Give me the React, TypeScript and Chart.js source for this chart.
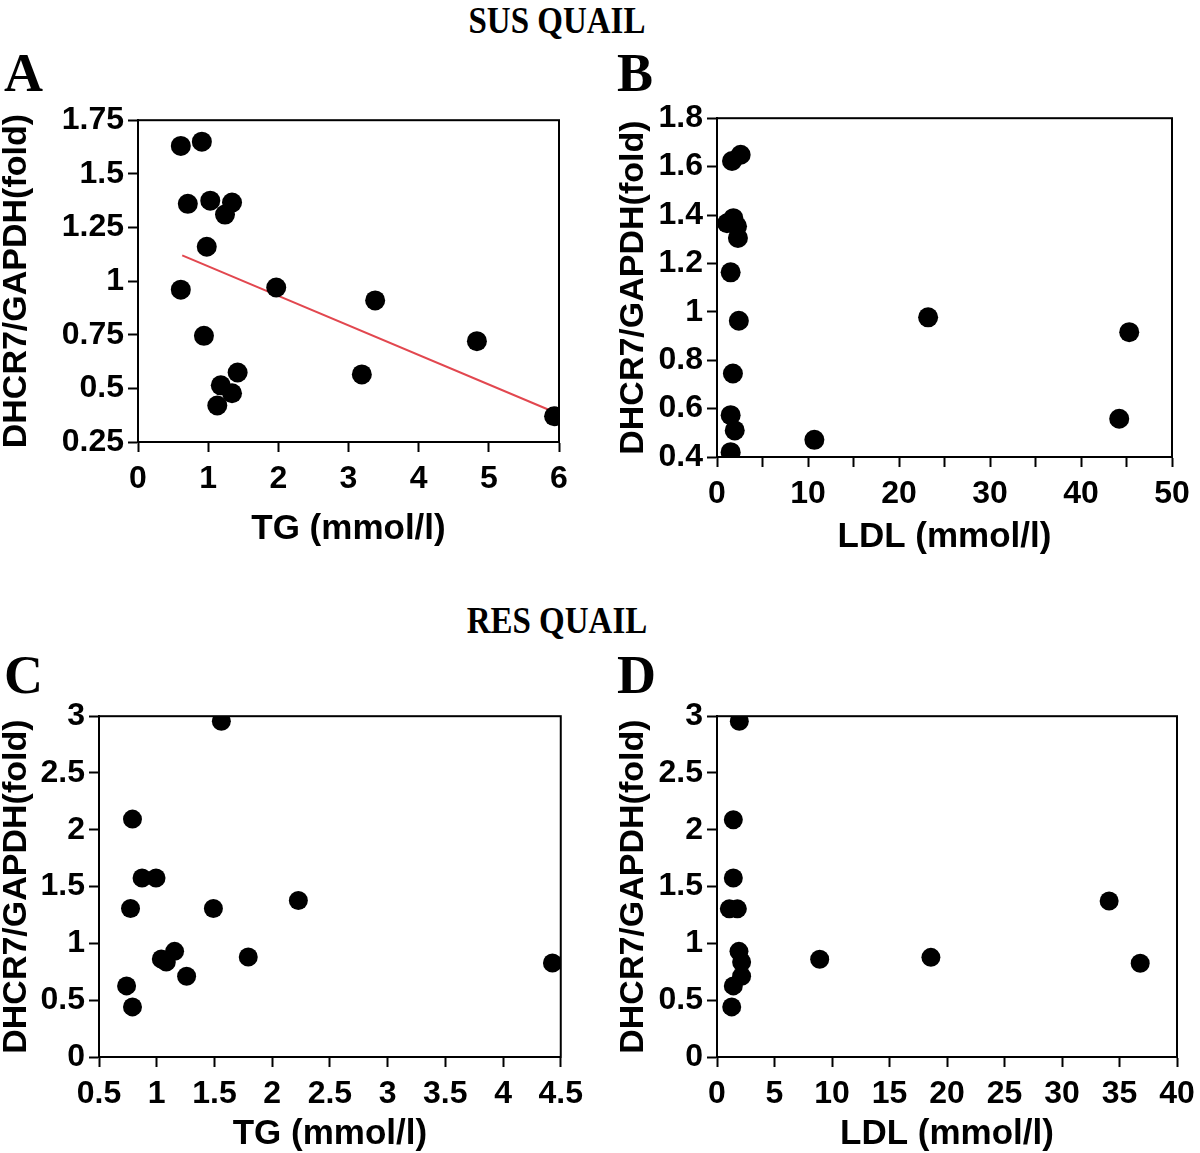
import React, { useEffect, useRef } from 'react';
import { Chart, registerables } from 'chart.js';

Chart.register(...registerables);

// ---------- DATA ----------
// Panel A: SUS quail, TG vs DHCR7/GAPDH
const susTg = [0.61, 0.91, 0.71, 1.03, 1.34, 1.24, 0.98, 0.61, 1.97, 3.38, 0.94, 1.42, 1.18, 1.34, 1.13, 3.19, 4.83, 5.93];
const susTgFold = [1.63, 1.65, 1.36, 1.375, 1.366, 1.31, 1.16, 0.96, 0.97, 0.91, 0.745, 0.574, 0.514, 0.477, 0.42, 0.565, 0.72, 0.37];
const susTgFitX = [0.63, 5.93];
const susTgFitY = [1.12, 0.39];
const susTgXTicks = [0, 1, 2, 3, 4, 5, 6];
const susTgXLabels = ['0', '1', '2', '3', '4', '5', '6'];
const susTgYTicks = [0.25, 0.5, 0.75, 1, 1.25, 1.5, 1.75];
const susTgYLabels = ['0.25', '0.5', '0.75', '1', '1.25', '1.5', '1.75'];

// Panel B: SUS quail, LDL vs DHCR7/GAPDH
const susLdl = [1.65, 2.6, 1.1, 1.8, 2.2, 2.3, 1.5, 2.4, 23.2, 45.3, 1.75, 1.5, 1.95, 1.5, 10.7, 44.2];
const susLdlFold = [1.623, 1.649, 1.366, 1.387, 1.353, 1.305, 1.163, 0.963, 0.977, 0.916, 0.745, 0.573, 0.51, 0.42, 0.471, 0.558];
const susLdlXTicks = [0, 5, 10, 15, 20, 25, 30, 35, 40, 45, 50];
const susLdlXLabels = ['0', '', '10', '', '20', '', '30', '', '40', '', '50'];
const susLdlYTicks = [0.4, 0.6, 0.8, 1.0, 1.2, 1.4, 1.6, 1.8];
const susLdlYLabels = ['0.4', '0.6', '0.8', '1', '1.2', '1.4', '1.6', '1.8'];

// Panel C: RES quail, TG vs DHCR7/GAPDH
const resTg = [1.56, 0.79, 0.873, 0.994, 0.773, 1.491, 2.227, 1.155, 1.04, 1.083, 1.259, 1.793, 0.739, 0.79, 4.428];
const resTgFold = [2.956, 2.094, 1.576, 1.576, 1.307, 1.307, 1.377, 0.93, 0.862, 0.836, 0.711, 0.88, 0.626, 0.441, 0.827];
const resTgXTicks = [0.5, 1, 1.5, 2, 2.5, 3, 3.5, 4, 4.5];
const resTgXLabels = ['0.5', '1', '1.5', '2', '2.5', '3', '3.5', '4', '4.5'];
const resYTicks = [0, 0.5, 1, 1.5, 2, 2.5, 3];
const resYLabels = ['0', '0.5', '1', '1.5', '2', '2.5', '3'];

// Panel D: RES quail, LDL vs DHCR7/GAPDH
const resLdl = [1.94, 1.42, 1.42, 1.07, 1.77, 1.91, 2.14, 2.14, 1.42, 1.28, 8.93, 18.6, 34.1, 36.8];
const resLdlFold = [2.956, 2.088, 1.576, 1.304, 1.304, 0.93, 0.836, 0.711, 0.626, 0.441, 0.86, 0.877, 1.374, 0.825];
const resLdlXTicks = [0, 5, 10, 15, 20, 25, 30, 35, 40];
const resLdlXLabels = ['0', '5', '10', '15', '20', '25', '30', '35', '40'];

const yTitleText = 'DHCR7/GAPDH(fold)';
const tgTitle = 'TG (mmol/l)';
const ldlTitle = 'LDL (mmol/l)';

// ---------- RENDERING ----------
const SANS = "'Liberation Sans', Arial, Helvetica, sans-serif";
const SERIF = "'Liberation Serif', 'Times New Roman', serif";
const TICK_FONT = { family: SANS, size: 32, weight: 'bold' as const, lineHeight: 1.2 };
const XTITLE_FONT = { family: SANS, size: 35, weight: 'bold' as const, lineHeight: 1.2 };
const YTITLE_FONT = { family: SANS, size: 34, weight: 'bold' as const, lineHeight: 1.2 };
const XTITLE_HALF = 35 * 1.2 / 2;
const YTITLE_HALF = 34 * 1.2 / 2;

type Box = { l: number; t: number; r: number; b: number };

const framePlugin = {
  id: 'frame',
  afterDraw(chart: any) {
    const { ctx, chartArea } = chart;
    ctx.save();
    ctx.strokeStyle = '#000';
    ctx.lineWidth = 2;
    ctx.strokeRect(chartArea.left, chartArea.top, chartArea.right - chartArea.left, chartArea.bottom - chartArea.top);
    ctx.restore();
  },
};

type PanelProps = {
  area: Box;
  yTitleCX: number;
  xTitleCY: number;
  xs: number[];
  ys: number[];
  fitX?: number[];
  fitY?: number[];
  xTicks: number[];
  xLabels: string[];
  yTicks: number[];
  yLabels: string[];
  xTitle: string;
  radius: number;
};

function Panel(p: PanelProps) {
  const ref = useRef<HTMLCanvasElement>(null);
  const box: Box = {
    l: Math.round(p.yTitleCX - YTITLE_HALF),
    t: p.area.t - 22,
    r: p.area.r + 28,
    b: Math.round(p.xTitleCY + XTITLE_HALF),
  };
  const w = box.r - box.l;
  const h = box.b - box.t;

  useEffect(() => {
    if (!ref.current) return;
    const datasets: any[] = [
      {
        type: 'scatter',
        data: p.xs.map((x, i) => ({ x, y: p.ys[i] })),
        pointRadius: p.radius,
        pointBackgroundColor: '#000',
        pointBorderColor: '#000',
        pointBorderWidth: 0,
        pointHoverRadius: p.radius,
        clip: 0,
        order: 0,
      },
    ];
    if (p.fitX && p.fitY) {
      datasets.push({
        type: 'line',
        data: p.fitX.map((x, i) => ({ x, y: p.fitY![i] })),
        borderColor: '#e2474f',
        borderWidth: 2,
        pointRadius: 0,
        fill: false,
        clip: 0,
        order: 1,
      });
    }
    const gridOpts = {
      display: true,
      drawOnChartArea: false,
      drawTicks: true,
      tickLength: 10,
      tickWidth: 2,
      tickColor: '#000',
    };
    const chart = new Chart(ref.current, {
      type: 'scatter',
      data: { datasets },
      options: {
        animation: false,
        responsive: false,
        devicePixelRatio: 1,
        events: [],
        layout: {
          padding: { top: p.area.t - box.t, right: box.r - p.area.r, left: 0, bottom: 0 },
        },
        plugins: { legend: { display: false }, tooltip: { enabled: false } },
        scales: {
          x: {
            type: 'linear',
            min: p.xTicks[0],
            max: p.xTicks[p.xTicks.length - 1],
            afterBuildTicks: (s: any) => {
              s.ticks = p.xTicks.map((v) => ({ value: v }));
            },
            afterFit: (s: any) => {
              s.height = box.b - p.area.b;
            },
            ticks: {
              autoSkip: false,
              maxRotation: 0,
              padding: 8,
              color: '#000',
              font: TICK_FONT,
              callback: (_v: any, i: number) => p.xLabels[i],
            },
            grid: gridOpts,
            border: { display: true, color: '#000', width: 2 },
            title: { display: true, text: p.xTitle, color: '#000', font: XTITLE_FONT, padding: 0 },
          },
          y: {
            type: 'linear',
            min: p.yTicks[0],
            max: p.yTicks[p.yTicks.length - 1],
            afterBuildTicks: (s: any) => {
              s.ticks = p.yTicks.map((v) => ({ value: v }));
            },
            afterFit: (s: any) => {
              s.width = p.area.l - box.l;
            },
            ticks: {
              autoSkip: false,
              padding: 4,
              color: '#000',
              font: TICK_FONT,
              callback: (_v: any, i: number) => p.yLabels[i],
            },
            grid: gridOpts,
            border: { display: true, color: '#000', width: 2 },
            title: { display: true, text: yTitleText, color: '#000', font: YTITLE_FONT, padding: 0 },
          },
        },
      } as any,
      plugins: [framePlugin],
    });
    return () => chart.destroy();
  }, []);

  return (
    <canvas
      ref={ref}
      width={w}
      height={h}
      style={{ position: 'absolute', left: box.l, top: box.t, width: w, height: h }}
    />
  );
}

const headStyle: React.CSSProperties = {
  position: 'absolute',
  fontFamily: SERIF,
  fontWeight: 'bold',
  color: '#000',
  whiteSpace: 'nowrap',
  lineHeight: 1,
};

export default function App() {
  return (
    <div
      style={{
        position: 'absolute',
        left: 0,
        top: 0,
        width: 1200,
        height: 1153,
        overflow: 'hidden',
        background: '#fff',
      }}
    >
      <div style={{ ...headStyle, left: 0, width: 1114, top: 4, fontSize: 33, textAlign: 'center', transform: 'scaleY(1.15)' }}>SUS QUAIL</div>
      <div style={{ ...headStyle, left: 0, width: 1114, top: 604, fontSize: 33, textAlign: 'center', transform: 'scaleY(1.15)' }}>RES QUAIL</div>
      <div style={{ ...headStyle, left: 4, top: 46, fontSize: 54 }}>A</div>
      <div style={{ ...headStyle, left: 617, top: 46, fontSize: 54 }}>B</div>
      <div style={{ ...headStyle, left: 4, top: 648, fontSize: 54 }}>C</div>
      <div style={{ ...headStyle, left: 617, top: 648, fontSize: 54 }}>D</div>

      <Panel
        area={{ l: 138, t: 119, r: 559, b: 442 }}
        yTitleCX={16}
        xTitleCY={529}
        xs={susTg}
        ys={susTgFold}
        fitX={susTgFitX}
        fitY={susTgFitY}
        xTicks={susTgXTicks}
        xLabels={susTgXLabels}
        yTicks={susTgYTicks}
        yLabels={susTgYLabels}
        xTitle={tgTitle}
        radius={10}
      />
      <Panel
        area={{ l: 717, t: 117, r: 1172, b: 457 }}
        yTitleCX={633}
        xTitleCY={537}
        xs={susLdl}
        ys={susLdlFold}
        xTicks={susLdlXTicks}
        xLabels={susLdlXLabels}
        yTicks={susLdlYTicks}
        yLabels={susLdlYLabels}
        xTitle={ldlTitle}
        radius={10}
      />
      <Panel
        area={{ l: 99, t: 715, r: 563, b: 1057 }}
        yTitleCX={16}
        xTitleCY={1134}
        xs={resTg}
        ys={resTgFold}
        xTicks={resTgXTicks}
        xLabels={resTgXLabels}
        yTicks={resYTicks}
        yLabels={resYLabels}
        xTitle={tgTitle}
        radius={9.5}
      />
      <Panel
        area={{ l: 717, t: 715, r: 1177, b: 1057 }}
        yTitleCX={633}
        xTitleCY={1134}
        xs={resLdl}
        ys={resLdlFold}
        xTicks={resLdlXTicks}
        xLabels={resLdlXLabels}
        yTicks={resYTicks}
        yLabels={resYLabels}
        xTitle={ldlTitle}
        radius={9.5}
      />
    </div>
  );
}
